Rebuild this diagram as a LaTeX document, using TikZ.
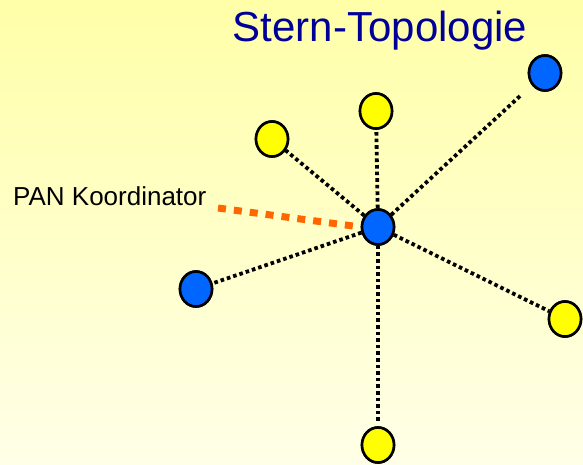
\documentclass[tikz,border=0pt]{standalone}
\usepackage{fontspec}
\setmainfont{Liberation Sans}
\usetikzlibrary{shapes.geometric}
\definecolor{bgtop}{RGB}{255,255,168}
\definecolor{bgbot}{RGB}{255,255,232}
\definecolor{nodeblue}{RGB}{0,102,255}
\definecolor{nodeyellow}{RGB}{255,255,0}
\definecolor{titleblue}{RGB}{0,0,153}
\definecolor{linkorange}{RGB}{255,102,0}
\tikzset{
  station/.style={ellipse, draw=black, line width=2.6pt, minimum width=32pt, minimum height=35pt, inner sep=0pt},
  coordnode/.style={station, fill=nodeblue},
  devnode/.style={station, fill=nodeyellow},
  radiolink/.style={draw=black, line width=3.8pt, dash pattern=on 3.6pt off 3pt},
  pointer/.style={draw=linkorange, line width=7pt, dash pattern=on 8pt off 8pt},
}
\begin{document}
\begin{tikzpicture}[x=1pt, y=-1pt]
  % background with vertical gradient
  \shade[top color=bgtop, bottom color=bgbot] (0,0) rectangle (583,464);
  \useasboundingbox (0,0) rectangle (583,464);

  % title
  \node[anchor=base, text=titleblue, font=\fontsize{42}{48}\selectfont, inner sep=0pt] (title) at (380,41) {Stern-Topologie};

  % stations
  \node[coordnode] (c)  at (378,227) {};
  \node[coordnode] (tr) at (545,73) {};
  \node[coordnode] (l)  at (196,289) {};
  \node[devnode]   (t)  at (376,111) {};
  \node[devnode]   (tl) at (272,139) {};
  \node[devnode]   (r)  at (565,319) {};
  \node[devnode]   (b)  at (378,445) {};

  % star links
  \path[radiolink] (c) -- (t);
  \path[radiolink] (c) -- (tl);
  \path[radiolink, shorten >=14pt] (c) -- (tr);
  \path[radiolink] (c) -- (l);
  \path[radiolink] (c) -- (r);
  \path[radiolink, shorten >=5pt] (c) -- (b);

  % redraw the stations on top of the links
  \node[coordnode] at (c) {};
  \node[coordnode] at (tr) {};
  \node[coordnode] at (l) {};
  \node[devnode] at (t) {};
  \node[devnode] at (tl) {};
  \node[devnode] at (r) {};
  \node[devnode] at (b) {};

  % label of the coordinator
  \node[anchor=base west, font=\fontsize{26}{30}\selectfont, inner sep=0pt] (lab) at (13,205) {PAN Koordinator};
  \coordinate (pstart) at (218,208);
  \path[pointer] (pstart) -- (c.west);
\end{tikzpicture}
\end{document}
